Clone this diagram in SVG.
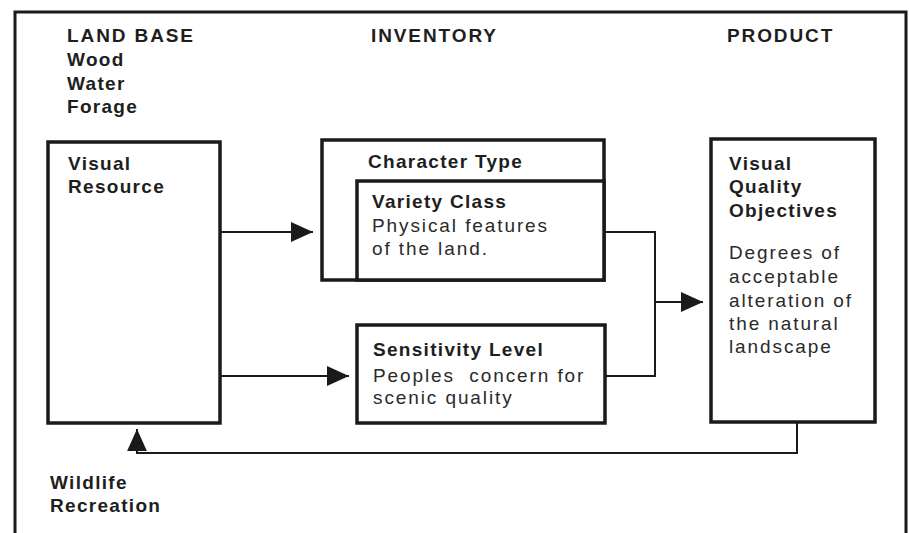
<svg xmlns="http://www.w3.org/2000/svg" width="909" height="533" viewBox="0 0 909 533">
  <style>
    .frame { fill: none; stroke: #1a1a1a; stroke-width: 3; }
    .box { fill: #fff; stroke: #1a1a1a; stroke-width: 3.5; }
    .wire { fill: none; stroke: #1a1a1a; stroke-width: 2; }
    .head { font-family: "Liberation Sans", Arial, sans-serif; font-size: 19px; font-weight: bold; fill: #1e1e1e; letter-spacing: 1.9px; }
    .lbl { font-family: "Liberation Sans", Arial, sans-serif; font-size: 19px; font-weight: bold; fill: #1e1e1e; letter-spacing: 1.3px; }
    .desc { font-family: "Liberation Sans", Arial, sans-serif; font-size: 19px; fill: #2a2a2a; letter-spacing: 1.9px; }
  </style>
  <defs>
    <marker id="arrow" viewBox="0 0 10 10" refX="10" refY="5" markerWidth="22" markerHeight="22" markerUnits="userSpaceOnUse" orient="auto">
      <path d="M0,0.5 L10,5 L0,9.5 Z" fill="#1a1a1a"/>
    </marker>
  </defs>
  <rect width="909" height="533" fill="#fff"/>

  <!-- outer frame, open at the bottom -->
  <path class="frame" d="M15,533 L15,12 L906,12 L906,533"/>

  <!-- column headings and side notes -->
  <g id="headings">
    <text class="head" x="67" y="42">LAND BASE</text>
    <text class="lbl" x="67" y="66">Wood</text>
    <text class="lbl" x="67" y="90">Water</text>
    <text class="lbl" x="67" y="113">Forage</text>
    <text class="head" x="371" y="42">INVENTORY</text>
    <text class="head" x="727" y="42">PRODUCT</text>
    <text class="lbl" x="50" y="489">Wildlife</text>
    <text class="lbl" x="50" y="512">Recreation</text>
  </g>

  <!-- connectors -->
  <g id="connectors">
    <line class="wire" x1="220" y1="232" x2="313" y2="232" marker-end="url(#arrow)"/>
    <line class="wire" x1="220" y1="376" x2="349" y2="376" marker-end="url(#arrow)"/>
    <path class="wire" d="M604,232 L655,232 L655,376 L605,376"/>
    <line class="wire" x1="655" y1="302" x2="703" y2="302" marker-end="url(#arrow)"/>
    <path class="wire" d="M797,422 L797,453 L137,453 L137,429" marker-end="url(#arrow)"/>
  </g>

  <g id="visual-resource">
    <rect class="box" x="48" y="142" width="172" height="281"/>
    <text class="lbl" x="68" y="170">Visual</text>
    <text class="lbl" x="68" y="193">Resource</text>
  </g>

  <g id="character-type">
    <rect class="box" x="322" y="140" width="282" height="140"/>
    <text class="lbl" x="368" y="168">Character Type</text>
  </g>

  <g id="variety-class">
    <rect class="box" x="357" y="181" width="247" height="99"/>
    <text class="lbl" x="372" y="208">Variety Class</text>
    <text class="desc" x="372" y="232">Physical features</text>
    <text class="desc" x="372" y="255">of the land.</text>
  </g>

  <g id="sensitivity-level">
    <rect class="box" x="357" y="325" width="248" height="98"/>
    <text class="lbl" x="373" y="356">Sensitivity Level</text>
    <text class="desc" x="373" y="382">Peoples&#160; concern for</text>
    <text class="desc" x="373" y="404">scenic quality</text>
  </g>

  <g id="visual-quality-objectives">
    <rect class="box" x="711" y="139" width="164" height="283"/>
    <text class="lbl" x="729" y="170">Visual</text>
    <text class="lbl" x="729" y="193">Quality</text>
    <text class="lbl" x="729" y="217">Objectives</text>
    <text class="desc" x="729" y="259">Degrees of</text>
    <text class="desc" x="729" y="283">acceptable</text>
    <text class="desc" x="729" y="307">alteration of</text>
    <text class="desc" x="729" y="330">the natural</text>
    <text class="desc" x="729" y="353">landscape</text>
  </g>
</svg>
